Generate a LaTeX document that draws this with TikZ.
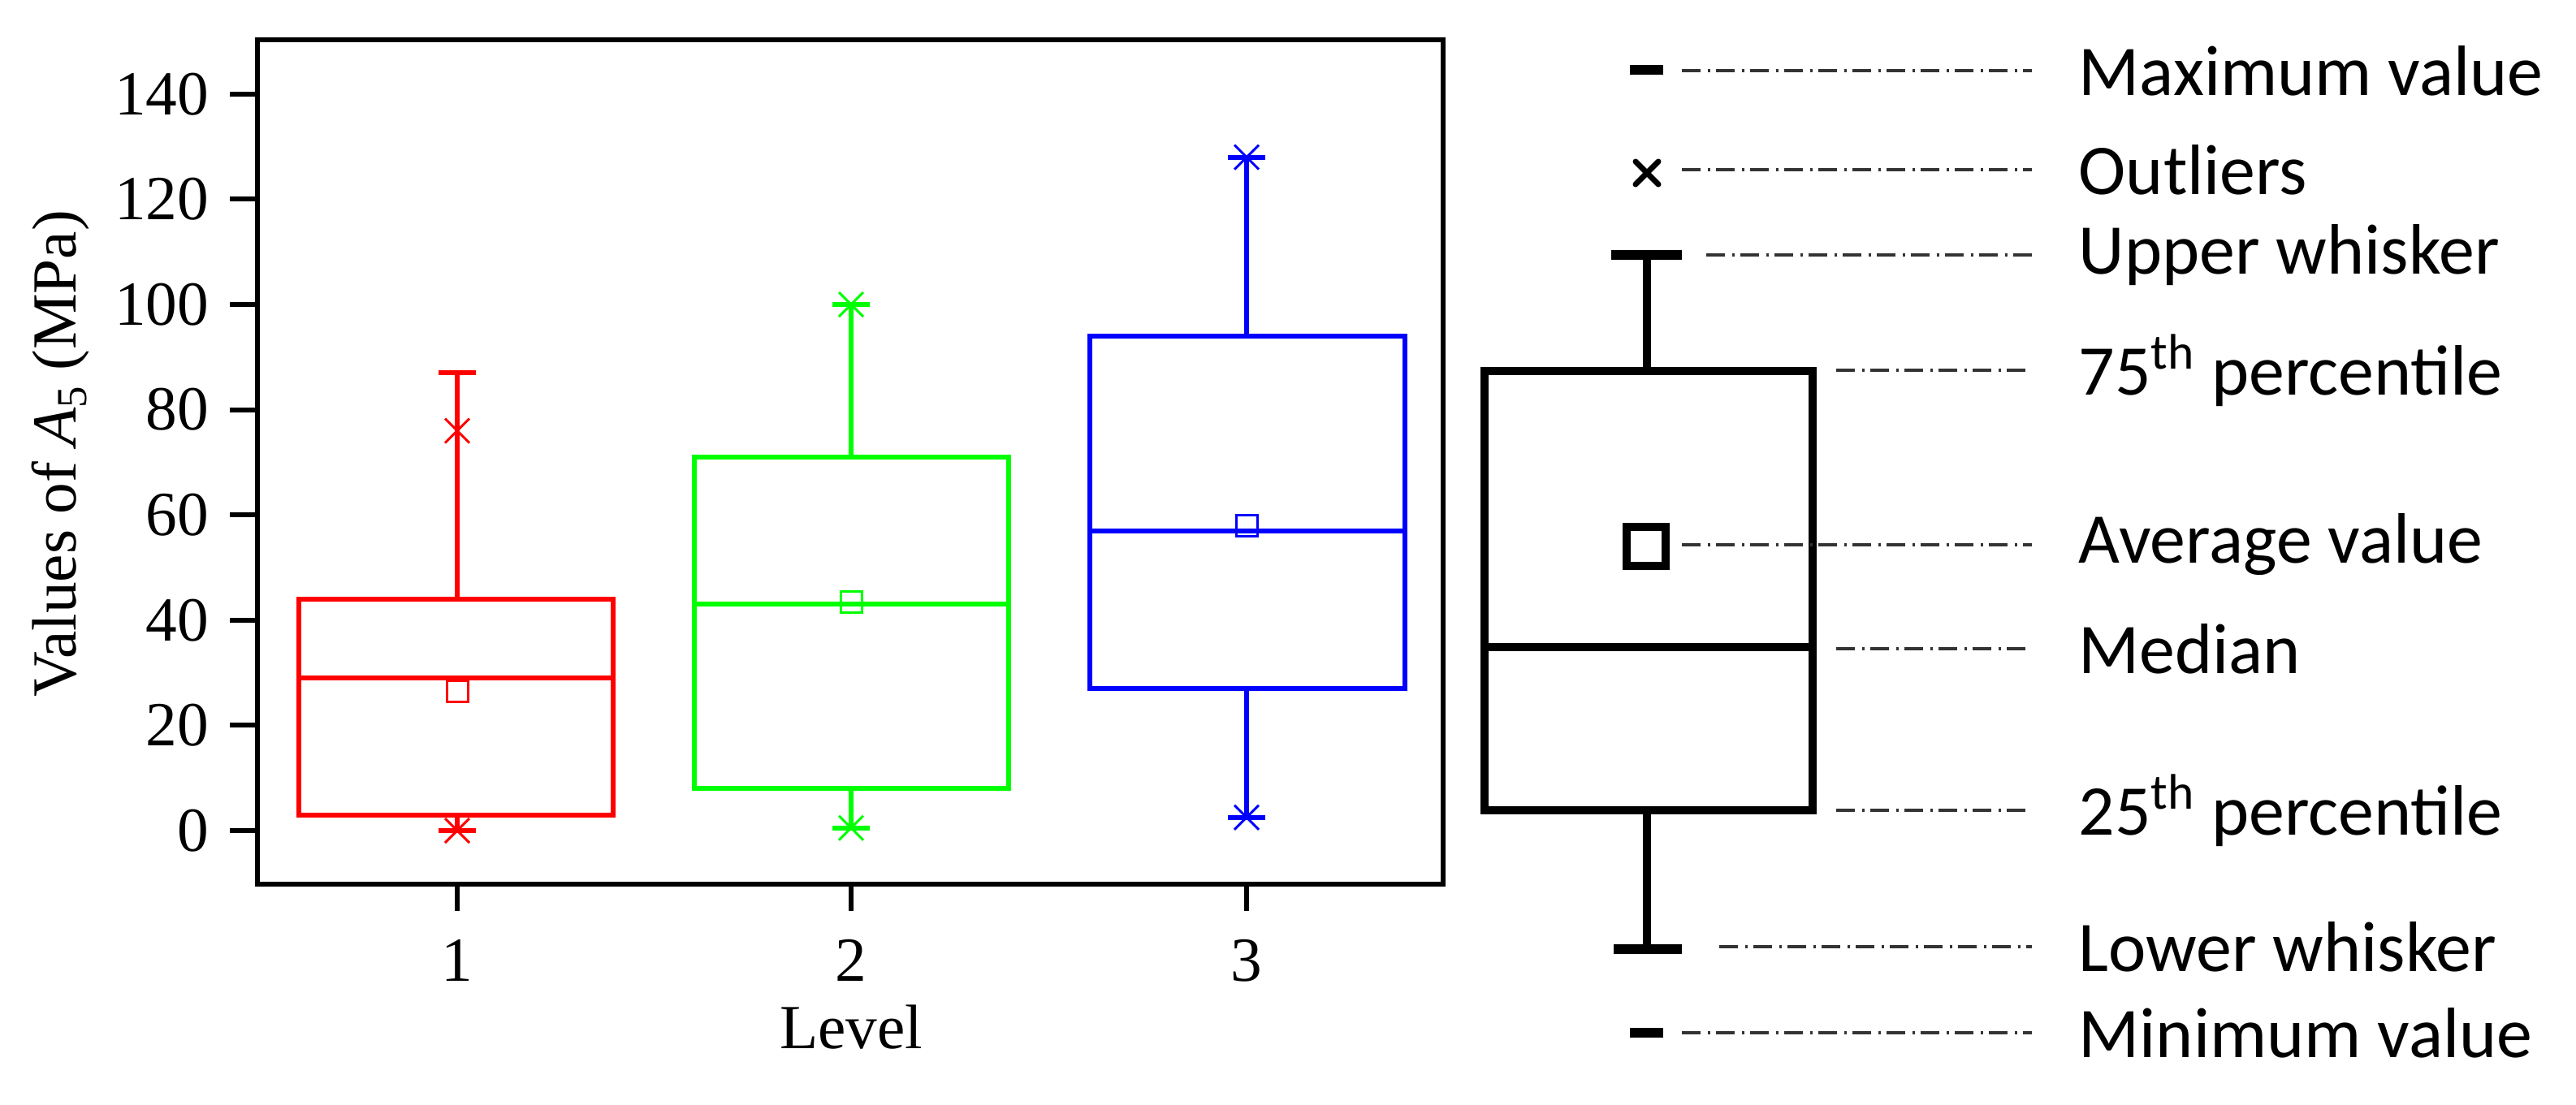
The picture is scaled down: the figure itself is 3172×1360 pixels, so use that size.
\documentclass[tikz,border=0pt]{standalone}
\usepackage{fontspec}
\setmainfont{Liberation Serif}
\newfontfamily\legfont{Carlito}
\begin{document}
\begin{tikzpicture}[x=0.1mm,y=-0.1mm,
  pl/.style={line width=0.6mm},
  lg/.style={line width=1.0mm},
  ddot/.style={line width=0.4mm,black!80,dash pattern=on 2.3mm off 0.9mm on 0.3mm off 0.7mm},
  tick/.style={font=\fontsize{22}{24}\selectfont},
  legtxt/.style={anchor=west,inner sep=0pt,font=\legfont\fontsize{25}{28}\selectfont},
  meanbox/.style={line width=0.3mm},
]
\useasboundingbox (0,0) rectangle (3172,1360);
% frame
\draw[pl] (317,49) rectangle (1777,1089);
% y ticks
\foreach \v/\y in {0/1023,20/893.4,40/763.8,60/634.2,80/504.6,100/375,120/245.4,140/115.8}{
  \draw[pl] (283,\y) -- (317,\y);
  \node[tick,anchor=east,inner sep=0pt] (yl\v) at (258,\y) {\v};
}
% x ticks
\foreach \i/\x in {1/563,2/1048,3/1535}{
  \draw[pl] (\x,1089) -- (\x,1122);
  \node[tick] (xl\i) at (\x,1183) {\i};
}
\node[tick] (xlab) at (1048,1265) {Level};
\node[tick,rotate=90] (ylab) at (75,559) {Values of {\itshape A}\raisebox{-0.35ex}{\fontsize{15}{16}\selectfont 5} (MPa)};
% boxes: color, xc, x1, x2, q1, q3, med, mean, top, bot
\foreach \c/\xc/\xa/\xb/\qa/\qb/\md/\mn/\tp/\bt in {
  red/563/368/755/1003.6/737.9/835.1/851.3/459.2/1023,
  green/1048/855/1242/971.2/562.9/744.4/741.1/375/1019.8,
  blue/1535/1342/1730/848/413.9/653.6/647.2/193.6/1006.8}{
  \begin{scope}[draw=\c]
  \draw[pl] (\xa,\qa) rectangle (\xb,\qb);
  \draw[pl] (\xa,\md) -- (\xb,\md);
  \draw[pl] (\xc,\qb) -- (\xc,\tp);
  \draw[pl] (\xc,\qa) -- (\xc,\bt);
  \draw[pl] (\xc-23,\tp) -- (\xc+23,\tp);
  \draw[pl] (\xc-23,\bt) -- (\xc+23,\bt);
  \draw[meanbox] (\xc-13,\mn-13) rectangle (\xc+13,\mn+13);
  \end{scope}
}
% asterisks (x marks)
\foreach \c/\xc/\yy in {red/563/530.5,red/563/1023,green/1048/375,green/1048/1019.8,blue/1535/193.6,blue/1535/1006.8}{
  \draw[\c,line width=0.3mm] (\xc-15,\yy-15) -- (\xc+15,\yy+15) (\xc-15,\yy+15) -- (\xc+15,\yy-15);
}
% legend box plot
\draw[lg] (1828,457) rectangle (2232,998);
\draw[lg] (1828,797) -- (2232,797);
\draw[lg] (2028,457) -- (2028,314);
\draw[lg] (2028,998) -- (2028,1169);
\draw[line width=1.2mm] (1984,314) -- (2071,314);
\draw[line width=1.2mm] (1987,1169) -- (2071,1169);
\draw[line width=1.2mm] (2007,86) -- (2048,86);
\draw[line width=1.2mm] (2007,1272) -- (2048,1272);
\draw[line width=0.7mm,line cap=round] (2014,199) -- (2042,227) (2014,227) -- (2042,199);
\draw[line width=1.0mm] (2003,649) rectangle (2051,697);
% legend labels and leaders
\foreach \n/\y/\xs/\t in {
  max/87/2071/{Maximum value},
  out/209/2071/{Outliers},
  up/314/2101/{Upper whisker},
  q3/456/2261/{75\textsuperscript{th} percentile},
  avg/671/2071/{Average value},
  med/799/2261/{Median},
  q1/998/2261/{25\textsuperscript{th} percentile},
  low/1166/2117/{Lower whisker},
  min/1272/2071/{Minimum value}}{
  \node[legtxt] (t\n) at (2559,\y) {\t};
  \coordinate (s\n) at (\xs,\y);
  \draw[ddot] (s\n) -- (2502,\y);
}
\end{tikzpicture}
\end{document}
